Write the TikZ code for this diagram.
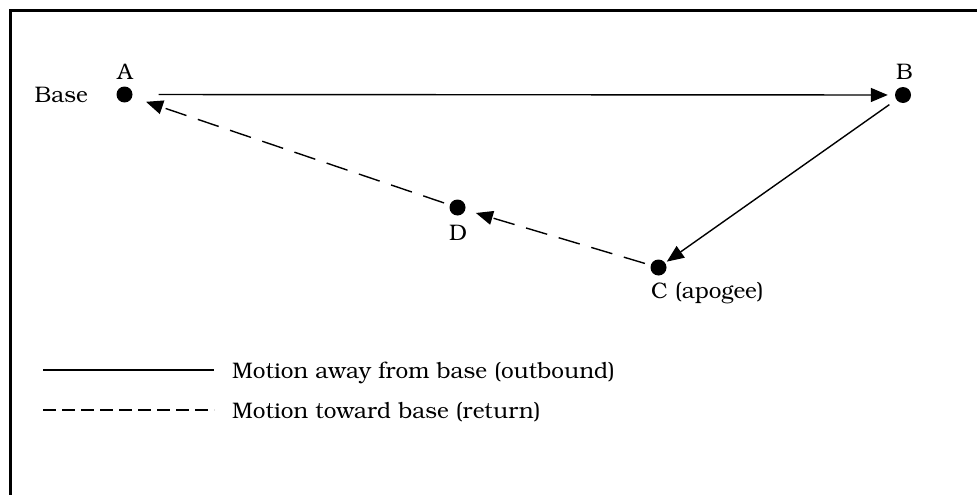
\documentclass[tikz,border=0pt]{standalone}
\usepackage[T1]{fontenc}
\usepackage{bookman}
\usetikzlibrary{arrows.meta}
\begin{document}
\begin{tikzpicture}[x=1pt,y=-1pt,
  font=\fontsize{22.5}{27}\selectfont,
  dot/.style={circle,fill=black,inner sep=0pt,minimum size=16pt},
  lbl/.style={inner sep=0pt},
  outline/.style={line width=1.4pt,-{Triangle[length=17pt,width=14pt]}},
  retline/.style={line width=1.4pt,dash pattern=on 22pt off 12pt,-{Triangle[length=17pt,width=14pt]}},
  legsolid/.style={line width=1.4pt},
  legdash/.style={line width=1.4pt,dash pattern=on 13pt off 6pt}]
\useasboundingbox (0,0) rectangle (977,495);
\clip (0,0) rectangle (977,495);
\draw[line width=3pt] (10.5,500) -- (10.5,10.5) -- (985,10.5);

\node[dot] (A) at (124.5,94.5) {};
\node[dot] (B) at (903,95) {};
\node[dot] (C) at (658.5,267.5) {};
\node[dot] (D) at (457.5,207.5) {};

\node[lbl,anchor=base] (lA) at (125,79) {A};
\node[lbl,anchor=base] (lB) at (904.5,79) {B};
\node[lbl,anchor=base] (lD) at (458,240) {D};
\node[lbl,anchor=base west] (lC) at (651,298) {C (apogee)};
\node[lbl,anchor=base east] (lBase) at (88,102) {Base};

\draw[outline,shorten <=26pt,shorten >=7pt] (A) -- (B);
\draw[outline,shorten <=8.5pt,shorten >=2pt] (B) -- (C);
\draw[retline,shorten <=6pt,shorten >=11pt] (C) -- (D);
\draw[retline,shorten <=6pt,shorten >=14.5pt] (D) -- (A);

\coordinate (s1) at (43,370);
\coordinate (s2) at (214,370);
\coordinate (d1) at (43,410);
\coordinate (d2) at (214,410);
\draw[legsolid] (s1) -- (s2);
\draw[legdash] (d1) -- (d2);
\node[lbl,anchor=base west] (t1) at (232,378) {Motion away from base (outbound)};
\node[lbl,anchor=base west] (t2) at (232,418) {Motion toward base (return)};
\end{tikzpicture}
\end{document}
